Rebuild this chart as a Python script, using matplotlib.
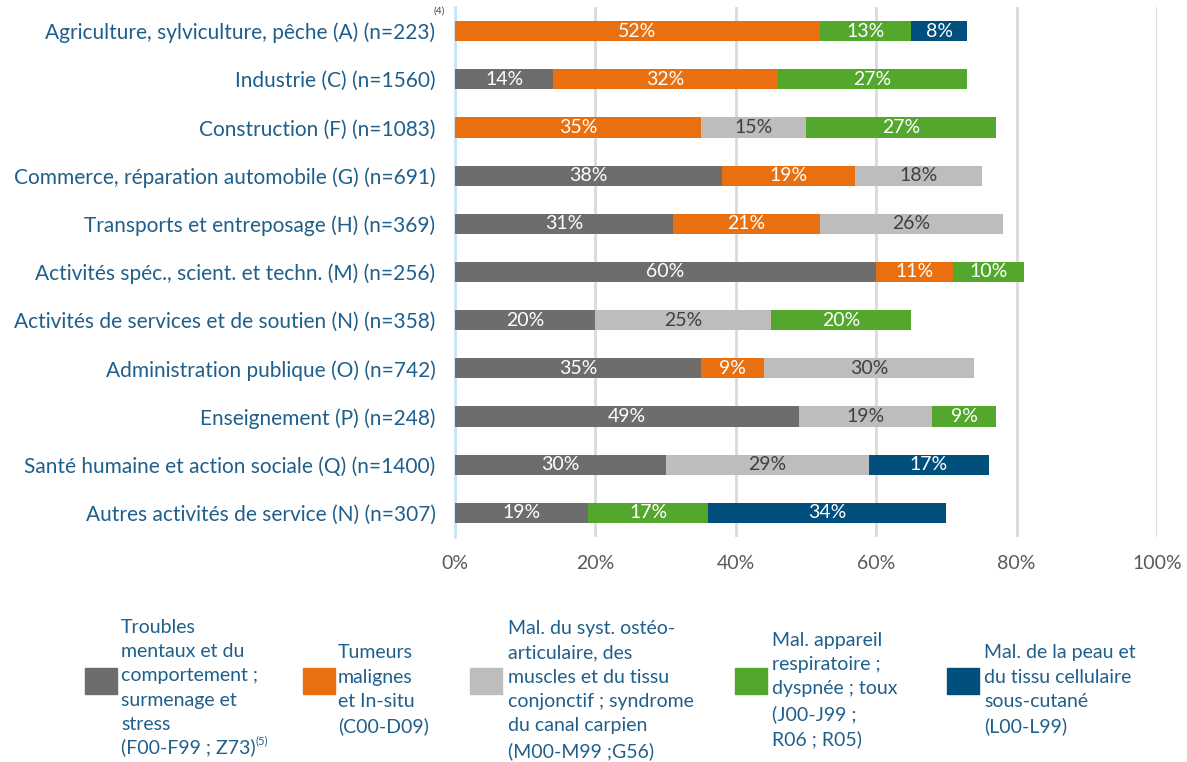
import matplotlib
matplotlib.use("Agg")
import matplotlib.pyplot as plt
import numpy as np
from matplotlib.patches import Rectangle
from matplotlib.text import Annotation

plt.rcParams['font.family'] = ['Lato', 'DejaVu Sans']

categories = [
    "Agriculture, sylviculture, pêche (A) (n=223)",
    "Industrie (C) (n=1560)",
    "Construction (F) (n=1083)",
    "Commerce, réparation automobile (G) (n=691)",
    "Transports et entreposage (H) (n=369)",
    "Activités spéc., scient. et techn. (M) (n=256)",
    "Activités de services et de soutien (N) (n=358)",
    "Administration publique (O) (n=742)",
    "Enseignement (P) (n=248)",
    "Santé humaine et action sociale (Q) (n=1400)",
    "Autres activités de service (N) (n=307)",
]

troubles    = [0, 14, 0, 38, 31, 60, 20, 35, 49, 30, 19]
tumeurs     = [52, 32, 35, 19, 21, 11, 0, 9, 0, 0, 0]
osteo       = [0, 0, 15, 18, 26, 0, 25, 30, 19, 29, 0]
respiratoire = [13, 27, 27, 0, 0, 10, 20, 0, 9, 0, 17]
peau        = [8, 0, 0, 0, 0, 0, 0, 0, 0, 17, 34]

series_labels = [
    "Troubles\nmentaux et du\ncomportement ;\nsurmenage et\nstress",
    "Tumeurs\nmalignes\net In-situ\n(C00-D09)",
    "Mal. du syst. ostéo-\narticulaire, des\nmuscles et du tissu\nconjonctif ; syndrome\ndu canal carpien\n(M00-M99 ;G56)",
    "Mal. appareil\nrespiratoire ;\ndyspnée ; toux\n(J00-J99 ;\nR06 ; R05)",
    "Mal. de la peau et\ndu tissu cellulaire\nsous-cutané\n(L00-L99)",
]
colors = ["#6d6d6d", "#e97011", "#bdbdbd", "#52a72c", "#004f7c"]
text_colors = ["white", "white", "#404040", "white", "white"]
xticks = [0, 20, 40, 60, 80, 100]
xticklabels = ["0%", "20%", "40%", "60%", "80%", "100%"]

label_color = "#1f5f8b"

fig = plt.figure(figsize=(11.87, 7.62), dpi=100)
ax = fig.add_axes([455/1187, 1-537/762, (1157-455)/1187, (537-7)/762])

y = np.arange(len(categories))
left = np.zeros(len(categories))
all_series = [troubles, tumeurs, osteo, respiratoire, peau]
for vals, col, tcol in zip(all_series, colors, text_colors):
    vals = np.array(vals, dtype=float)
    ax.barh(y, vals, left=left, height=0.42, color=col, edgecolor='none', zorder=3)
    for yi, (l, v) in enumerate(zip(left, vals)):
        if v > 0:
            ax.text(l + v/2, yi, f"{int(v)}%", ha='center', va='center',
                    color=tcol, fontsize=14, zorder=4)
    left += vals

ax.set_xlim(0, 100)
ax.set_ylim(len(categories) - 0.5, -0.5)
ax.set_xticks(xticks)
ax.set_xticklabels(xticklabels, fontsize=14, color="#595959")
ax.set_yticks(y)
ax.set_yticklabels(categories, fontsize=15, color=label_color, va='center_baseline')
ax.tick_params(axis='both', length=0)
ax.tick_params(axis='y', pad=14)
ax.tick_params(axis='x', pad=13)
ax.grid(axis='x', color="#d9d9d9", linewidth=2, zorder=0)
ax.set_axisbelow(True)
for s in ['top', 'right', 'bottom']:
    ax.spines[s].set_visible(False)
ax.spines['left'].set_color("#c5e6f8")
ax.spines['left'].set_linewidth(2)

# superscript (4)
fig.text(434/1187, 1-11/762, "(4)", fontsize=7.5, color="#404040", ha='left', va='center')

# legend
sq_x = [85, 303, 470, 735, 947]
tx_x = [121, 338, 508, 772, 984]
W, H = 1187, 762
for i in range(5):
    fig.patches.append(Rectangle((sq_x[i]/W, 1-694/H), 32/W, 26/H,
                                 transform=fig.transFigure, color=colors[i]))
    if i == 0:
        t = fig.text(tx_x[i]/W, 1-676/H, series_labels[i], fontsize=14,
                     color=label_color, ha='left', va='center', linespacing=1.52)
        t2 = fig.text(tx_x[i]/W, 1-747/H, "(F00-F99 ; Z73)", fontsize=14,
                      color=label_color, ha='left', va='center')
        a = Annotation("(5)", xy=(1.0, 0.85), xycoords=t2, fontsize=8,
                       color=label_color, ha='left', va='center')
        fig.add_artist(a)
    else:
        fig.text(tx_x[i]/W, 1-690/H, series_labels[i], fontsize=14,
                 color=label_color, ha='left', va='center', linespacing=1.52)

fig.savefig("out.png", dpi=100)
